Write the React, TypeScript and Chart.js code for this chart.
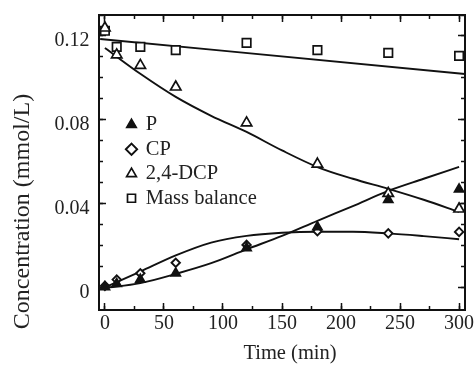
import React, { useEffect, useRef } from 'react';
import { Chart, registerables } from 'chart.js';

Chart.register(...registerables);

// ---- data ----
const timeMin = [0, 10, 30, 60, 120, 180, 240, 300];
const pValues = [0.0005, 0.002, 0.004, 0.007, 0.019, 0.029, 0.042, 0.047];
const cpValues = [0.001, 0.004, 0.007, 0.012, 0.0205, 0.027, 0.026, 0.0267];
const dcpValues = [0.1238, 0.111, 0.106, 0.0957, 0.0786, 0.059, 0.045, 0.0376];
const massValues = [0.1225, 0.1148, 0.1148, 0.1133, 0.1167, 0.1133, 0.112, 0.1105];

// fitted curves
const fitTimes = [0, 30, 60, 90, 120, 150, 180, 210, 240, 270, 300];
const pFit = [0, 0.0023, 0.0067, 0.0118, 0.0184, 0.0248, 0.032, 0.039, 0.0462, 0.052, 0.0577];
const cpFit = [0.0003, 0.0078, 0.0155, 0.0216, 0.0248, 0.0263, 0.0268, 0.0268, 0.026, 0.0247, 0.0232];
const dcpFit = [0.1143, 0.102, 0.091, 0.082, 0.0743, 0.0655, 0.0576, 0.052, 0.0472, 0.042, 0.0362];
const massFitTimes = [-4, 305];
const massFit = [0.1186, 0.1019];

const seriesNames = ['P', 'CP', '2,4-DCP', 'Mass balance'];

const xMajorTicks = [0, 50, 100, 150, 200, 250, 300];
const xMinorTicks = [0, 25, 50, 75, 100, 125, 150, 175, 200, 225, 250, 275, 300];
const yMajorTicks = [0, 0.04, 0.08, 0.12];
const yMinorTicks = [0, 0.01, 0.02, 0.03, 0.04, 0.05, 0.06, 0.07, 0.08, 0.09, 0.1, 0.11, 0.12, 0.13];

const xTitle = 'Time (min)';
const yTitle = 'Concentration (mmol/L)';

const X_MIN = -5;
const X_MAX = 305;
const Y_MIN = -0.0105;
const Y_MAX = 0.13;

const FONT = "'Liberation Serif', 'Times New Roman', serif";
const TEXT = '#222';
const INK = '#111';

const pts = (xs: number[], ys: number[]) => xs.map((x, i) => ({ x, y: ys[i] }));
const setTicks = (vals: number[]) => (s: any) => {
  s.ticks = vals.map((v) => ({ value: v }));
};
const fitSize = (h: number | null, w: number | null) => (s: any) => {
  if (h !== null) s.height = h;
  if (w !== null) s.width = w;
  s.paddingTop = 0;
  s.paddingBottom = 0;
  s.paddingLeft = 0;
  s.paddingRight = 0;
};

const titlesPlugin = {
  id: 'axisTitles',
  afterDraw(chart: any) {
    const ctx = chart.ctx;
    ctx.save();
    ctx.fillStyle = TEXT;
    ctx.textAlign = 'center';
    ctx.textBaseline = 'middle';
    ctx.font = `24px ${FONT}`;
    ctx.translate(22.5, 211.5);
    ctx.rotate(-Math.PI / 2);
    ctx.fillText(yTitle, 0, 0);
    ctx.restore();
    ctx.save();
    ctx.fillStyle = TEXT;
    ctx.textAlign = 'center';
    ctx.textBaseline = 'middle';
    ctx.font = `20.5px ${FONT}`;
    ctx.fillText(xTitle, 290, 354);
    ctx.restore();
  },
};

const legendPlace = {
  id: 'legendPlace',
  afterLayout(chart: any) {
    const lg = chart.legend;
    if (!lg) return;
    lg.left = chart.chartArea.left + 24.5;
    lg.top = chart.chartArea.top + 95.5;
  },
};

export default function App() {
  const ref = useRef<HTMLCanvasElement | null>(null);
  useEffect(() => {
    document.body.style.margin = '0';
    const canvas = ref.current;
    if (!canvas) return;

    const marker = (label: string, data: number[], style: string, radius: number, fill: string, bw: number) => ({
      label,
      data: pts(timeMin, data),
      pointStyle: style,
      pointRadius: radius,
      pointBackgroundColor: fill,
      pointBorderColor: INK,
      pointBorderWidth: bw,
      backgroundColor: fill,
      borderColor: INK,
      borderWidth: bw,
      showLine: false,
      xAxisID: 'x',
      yAxisID: 'y',
    });
    const curve = (label: string, xs: number[], ys: number[]) => ({
      label,
      data: pts(xs, ys),
      showLine: true,
      pointRadius: 0,
      borderColor: INK,
      borderWidth: 1.9,
      fill: false,
      cubicInterpolationMode: 'monotone',
      xAxisID: 'x',
      yAxisID: 'y',
    });

    const tickFont = { family: FONT, size: 20 };
    const grid = (len: number) => ({
      drawOnChartArea: false,
      drawTicks: true,
      tickLength: len,
      tickColor: INK,
      tickWidth: 1.5,
    });
    const xBase = { type: 'linear', axis: 'x', min: X_MIN, max: X_MAX };
    const yBase = { type: 'linear', axis: 'y', min: Y_MIN, max: Y_MAX };

    const chart = new Chart(canvas, {
      type: 'scatter',
      data: {
        datasets: [
          marker(seriesNames[0], pValues, 'triangle', 5.5, INK, 1.5),
          marker(seriesNames[1], cpValues, 'rectRot', 4.2, '#fff', 1.9),
          marker(seriesNames[2], dcpValues, 'triangle', 6, '#fff', 1.7),
          marker(seriesNames[3], massValues, 'rect', 6, '#fff', 1.7),
          curve('P fit', fitTimes, pFit),
          curve('CP fit', fitTimes, cpFit),
          curve('2,4-DCP fit', fitTimes, dcpFit),
          curve('Mass balance fit', massFitTimes, massFit),
        ] as any,
      },
      options: {
        animation: false,
        responsive: false,
        events: [],
        layout: { padding: { left: 0, top: 15, right: 10, bottom: 0 } },
        plugins: {
          tooltip: { enabled: false },
          legend: {
            position: 'chartArea',
            align: 'start',
            labels: {
              usePointStyle: true,
              boxWidth: 8,
              boxHeight: 8,
              padding: 4,
              color: TEXT,
              font: { family: FONT, size: 20.5 },
              filter: (item: any) => item.datasetIndex < 4,
            },
          },
        },
        scales: {
          x: {
            ...xBase,
            position: 'bottom',
            weight: 1,
            afterBuildTicks: setTicks(xMajorTicks),
            ticks: { font: tickFont, color: TEXT, padding: 9, maxRotation: 0, callback: (v: any) => String(v) },
            grid: grid(-7),
            border: { display: true, color: INK, width: 2 },
            afterFit: fitSize(57, null),
          },
          xMinor: {
            ...xBase,
            position: 'bottom',
            weight: 0,
            afterBuildTicks: setTicks(xMinorTicks),
            ticks: { display: false },
            grid: grid(-4),
            border: { display: false },
            afterFit: fitSize(0, null),
          },
          xTop: {
            ...xBase,
            position: 'top',
            weight: 0,
            afterBuildTicks: setTicks(xMajorTicks),
            ticks: { display: false },
            grid: grid(-7),
            border: { display: true, color: INK, width: 2 },
            afterFit: fitSize(0, null),
          },
          xTopMinor: {
            ...xBase,
            position: 'top',
            weight: 1,
            afterBuildTicks: setTicks(xMinorTicks),
            ticks: { display: false },
            grid: grid(-4),
            border: { display: false },
            afterFit: fitSize(0, null),
          },
          y: {
            ...yBase,
            position: 'left',
            weight: 1,
            afterBuildTicks: setTicks(yMajorTicks),
            ticks: {
              font: tickFont,
              color: TEXT,
              padding: 16.5,
              labelOffset: 5,
              callback: (v: any) => (v === 0 ? '0' : Number(v).toFixed(2)),
            },
            grid: grid(-7),
            border: { display: true, color: INK, width: 2 },
            afterFit: fitSize(null, 99),
          },
          yMinor: {
            ...yBase,
            position: 'left',
            weight: 0,
            afterBuildTicks: setTicks(yMinorTicks),
            ticks: { display: false },
            grid: grid(-4),
            border: { display: false },
            afterFit: fitSize(null, 0),
          },
          yRight: {
            ...yBase,
            position: 'right',
            weight: 0,
            afterBuildTicks: setTicks(yMajorTicks),
            ticks: { display: false },
            grid: grid(-7),
            border: { display: true, color: INK, width: 2 },
            afterFit: fitSize(null, 0),
          },
          yRightMinor: {
            ...yBase,
            position: 'right',
            weight: 1,
            afterBuildTicks: setTicks(yMinorTicks),
            ticks: { display: false },
            grid: grid(-4),
            border: { display: false },
            afterFit: fitSize(null, 0),
          },
        } as any,
      },
      plugins: [legendPlace, titlesPlugin],
    } as any);
    return () => chart.destroy();
  }, []);

  return (
    <div style={{ width: 475, height: 367 }}>
      <canvas ref={ref} width={475} height={367} style={{ display: 'block' }} />
    </div>
  );
}
